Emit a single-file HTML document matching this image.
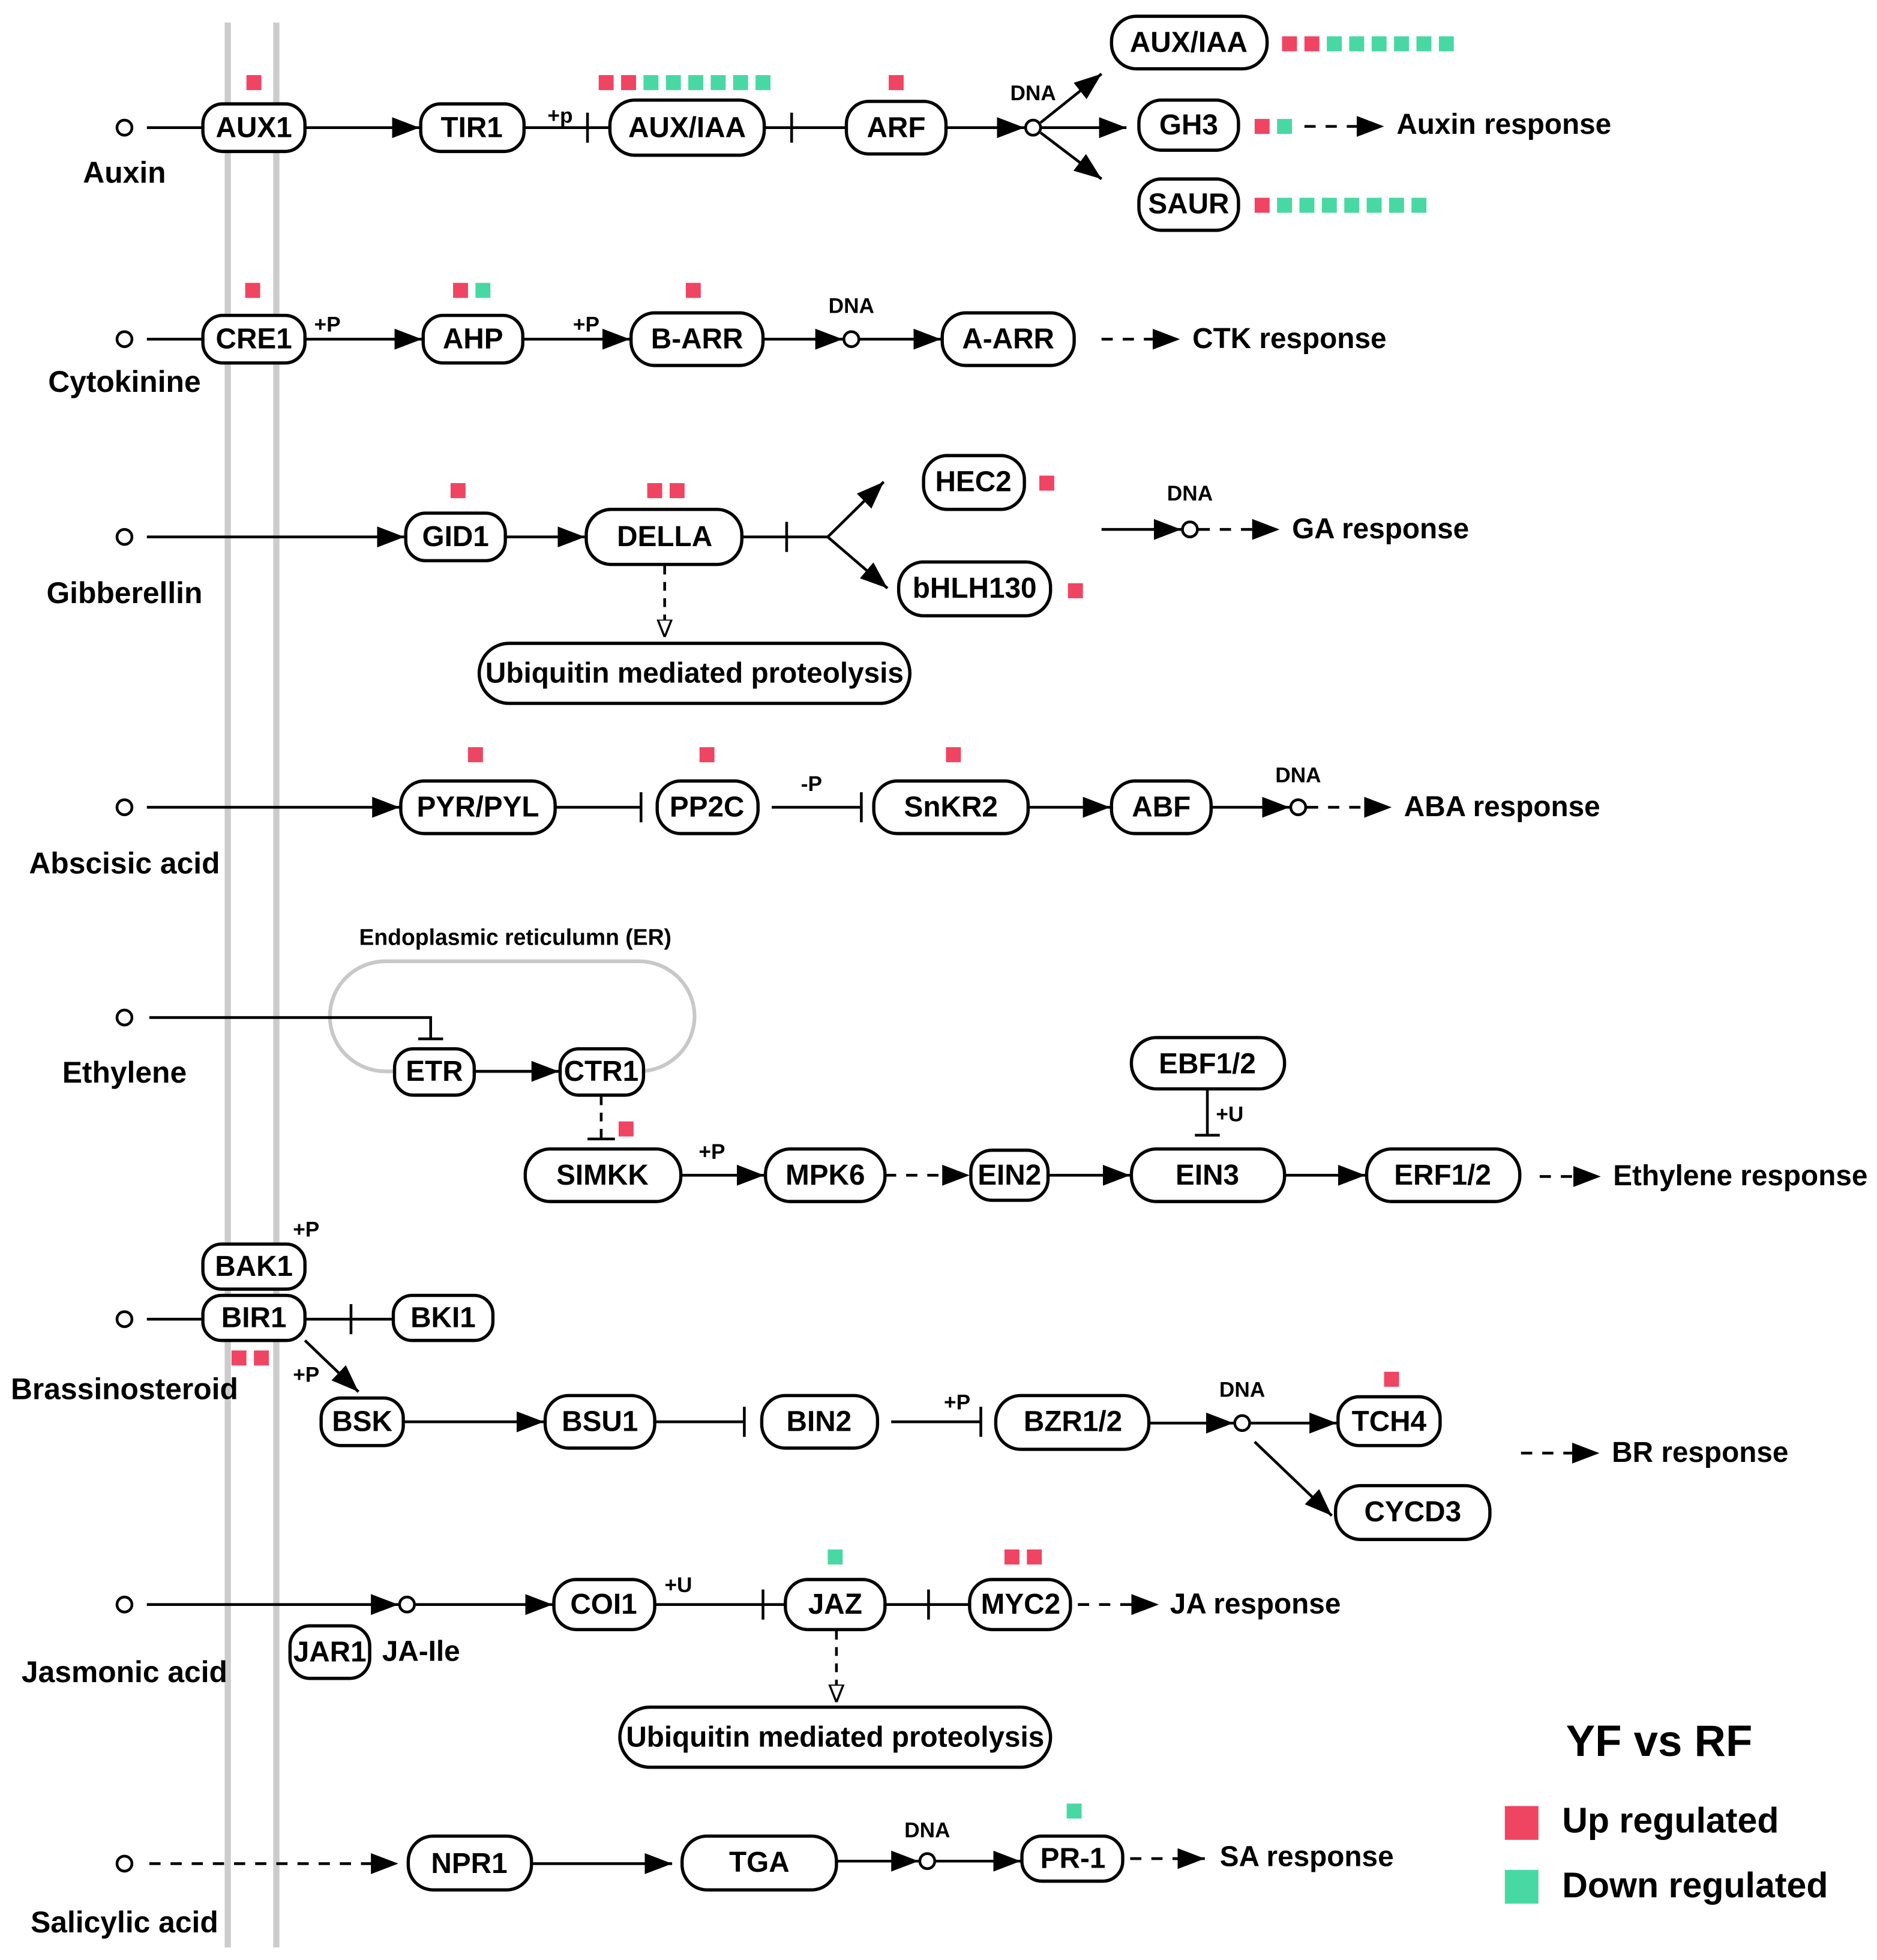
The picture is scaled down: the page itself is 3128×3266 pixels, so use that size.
<!DOCTYPE html>
<html><head><meta charset="utf-8"><style>
html,body{margin:0;padding:0;background:#fff}
svg{display:block}
text{font-family:"Liberation Sans",Arial,sans-serif;font-weight:bold;fill:#000}
.n{font-size:23px;text-anchor:middle;dominant-baseline:central}
.l{font-size:24px;text-anchor:middle}
.r{font-size:23px}
.s{font-size:17px;text-anchor:middle}
</style></head><body>
<svg width="3128" height="3266" viewBox="0 0 1508 1566" preserveAspectRatio="none" xmlns="http://www.w3.org/2000/svg">
<defs>
<marker id="A" viewBox="0 0 10 10" refX="10" refY="5" markerWidth="22" markerHeight="22" markerUnits="userSpaceOnUse" orient="auto"><path d="M0,1.2 L10,5 L0,8.8 z" fill="#000"/></marker>
<marker id="o" viewBox="0 0 10 10" refX="10" refY="5" markerWidth="14" markerHeight="14" markerUnits="userSpaceOnUse" orient="auto"><path d="M0,1 L10,5 L0,9 z" fill="#fff" stroke="#000" stroke-width="1.2"/></marker>
</defs>
<g stroke="#ccc" stroke-width="5"><line x1="183" y1="18" x2="183" y2="1556"/><line x1="222" y1="18" x2="222" y2="1556"/></g>
<rect x="265" y="768" width="293" height="88" rx="45" fill="none" stroke="#c8c8c8" stroke-width="3"/>

<g fill="none" stroke="#000" stroke-width="2.2">
<circle cx="100" cy="102" r="6"/><circle cx="830" cy="102" r="6"/>
<circle cx="100" cy="271" r="6"/><circle cx="684" cy="271" r="6"/>
<circle cx="100" cy="429" r="6"/><circle cx="956" cy="423" r="6"/>
<circle cx="100" cy="645" r="6"/><circle cx="1043" cy="645" r="6"/>
<circle cx="100" cy="813" r="6"/>
<circle cx="100" cy="1054" r="6"/><circle cx="998" cy="1137" r="6"/>
<circle cx="100" cy="1282" r="6"/><circle cx="327" cy="1282" r="6"/>
<circle cx="100" cy="1489" r="6"/><circle cx="745" cy="1487" r="6"/>
</g>

<g stroke="#000" stroke-width="2.2" fill="none">
<line x1="118" y1="102" x2="163" y2="102"/>
<line x1="245" y1="102" x2="337" y2="102" marker-end="url(#A)"/>
<line x1="421" y1="102" x2="490" y2="102"/><line x1="472" y1="90" x2="472" y2="114"/>
<line x1="614" y1="102" x2="680" y2="102"/><line x1="636" y1="90" x2="636" y2="114"/>
<line x1="760" y1="102" x2="823" y2="102" marker-end="url(#A)"/>
<line x1="836" y1="98" x2="885" y2="59" marker-end="url(#A)"/>
<line x1="836" y1="102" x2="905" y2="102" marker-end="url(#A)"/>
<line x1="836" y1="106" x2="885" y2="143" marker-end="url(#A)"/>
<line x1="1048" y1="101" x2="1112" y2="101" stroke-dasharray="9,8" marker-end="url(#A)"/>
<line x1="118" y1="271" x2="163" y2="271"/>
<line x1="245" y1="271" x2="339" y2="271" marker-end="url(#A)"/>
<line x1="420" y1="271" x2="506" y2="271" marker-end="url(#A)"/>
<line x1="613" y1="271" x2="677" y2="271" marker-end="url(#A)"/>
<line x1="690" y1="271" x2="756" y2="271" marker-end="url(#A)"/>
<line x1="885" y1="271" x2="948" y2="271" stroke-dasharray="9,8" marker-end="url(#A)"/>
<line x1="118" y1="429" x2="325" y2="429" marker-end="url(#A)"/>
<line x1="406" y1="429" x2="470" y2="429" marker-end="url(#A)"/>
<line x1="596" y1="429" x2="665" y2="429"/><line x1="632" y1="417" x2="632" y2="441"/>
<line x1="665" y1="429" x2="710" y2="385" marker-end="url(#A)"/>
<line x1="665" y1="429" x2="713" y2="470" marker-end="url(#A)"/>
<line x1="885" y1="423" x2="949" y2="423" marker-end="url(#A)"/>
<line x1="963" y1="423" x2="1028" y2="423" stroke-dasharray="9,8" marker-end="url(#A)"/>
<line x1="534" y1="452" x2="534" y2="509" stroke-dasharray="7,6" marker-end="url(#o)"/>
<line x1="118" y1="645" x2="321" y2="645" marker-end="url(#A)"/>
<line x1="446" y1="645" x2="515" y2="645"/><line x1="515" y1="633" x2="515" y2="657"/>
<line x1="620" y1="645" x2="692" y2="645"/><line x1="692" y1="633" x2="692" y2="657"/>
<line x1="826" y1="645" x2="892" y2="645" marker-end="url(#A)"/>
<line x1="973" y1="645" x2="1036" y2="645" marker-end="url(#A)"/>
<line x1="1050" y1="645" x2="1118" y2="645" stroke-dasharray="9,8" marker-end="url(#A)"/>
<polyline points="120,813 346,813 346,830"/><line x1="336" y1="830" x2="356" y2="830"/>
<line x1="381" y1="856" x2="449" y2="856" marker-end="url(#A)"/>
<line x1="483" y1="876" x2="483" y2="910" stroke-dasharray="7,6"/><line x1="472" y1="910" x2="494" y2="910"/>
<line x1="547" y1="939" x2="614" y2="939" marker-end="url(#A)"/>
<line x1="711" y1="939" x2="779" y2="939" stroke-dasharray="9,8" marker-end="url(#A)"/>
<line x1="842" y1="939" x2="908" y2="939" marker-end="url(#A)"/>
<line x1="970" y1="870" x2="970" y2="907"/><line x1="960" y1="907" x2="980" y2="907"/>
<line x1="1032" y1="939" x2="1097" y2="939" marker-end="url(#A)"/>
<line x1="1237" y1="940" x2="1286" y2="940" stroke-dasharray="9,8" marker-end="url(#A)"/>
<line x1="118" y1="1054" x2="163" y2="1054"/>
<line x1="245" y1="1054" x2="316" y2="1054"/><line x1="282" y1="1042" x2="282" y2="1066"/>
<line x1="245" y1="1071" x2="288" y2="1112" marker-end="url(#A)"/>
<line x1="324" y1="1136" x2="437" y2="1136" marker-end="url(#A)"/>
<line x1="526" y1="1136" x2="598" y2="1136"/><line x1="598" y1="1124" x2="598" y2="1148"/>
<line x1="716" y1="1136" x2="788" y2="1136"/><line x1="788" y1="1124" x2="788" y2="1148"/>
<line x1="923" y1="1137" x2="991" y2="1137" marker-end="url(#A)"/>
<line x1="1005" y1="1137" x2="1074" y2="1137" marker-end="url(#A)"/>
<line x1="1008" y1="1152" x2="1070" y2="1211" marker-end="url(#A)"/>
<line x1="1222" y1="1161" x2="1285" y2="1161" stroke-dasharray="9,8" marker-end="url(#A)"/>
<line x1="118" y1="1282" x2="320" y2="1282" marker-end="url(#A)"/>
<line x1="334" y1="1282" x2="444" y2="1282" marker-end="url(#A)"/>
<line x1="526" y1="1282" x2="631" y2="1282"/><line x1="613" y1="1270" x2="613" y2="1294"/>
<line x1="711" y1="1282" x2="779" y2="1282"/><line x1="746" y1="1270" x2="746" y2="1294"/>
<line x1="866" y1="1282" x2="931" y2="1282" stroke-dasharray="9,8" marker-end="url(#A)"/>
<line x1="672" y1="1303" x2="672" y2="1360" stroke-dasharray="7,6" marker-end="url(#o)"/>
<line x1="120" y1="1489" x2="320" y2="1489" stroke-dasharray="9,8" marker-end="url(#A)"/>
<line x1="427" y1="1489" x2="540" y2="1489" marker-end="url(#A)"/>
<line x1="672" y1="1487" x2="738" y2="1487" marker-end="url(#A)"/>
<line x1="752" y1="1487" x2="820" y2="1487" marker-end="url(#A)"/>
<line x1="908" y1="1485" x2="968" y2="1485" stroke-dasharray="9,8" marker-end="url(#A)"/>
</g>

<g fill="#fff" stroke="#000" stroke-width="2.6">
<rect x="163" y="83" width="82" height="38" rx="16"/>
<rect x="338" y="83" width="83" height="38" rx="16"/>
<rect x="490" y="80" width="124" height="44" rx="20"/>
<rect x="680" y="81" width="80" height="42" rx="18"/>
<rect x="893" y="13" width="125" height="42" rx="20"/>
<rect x="915" y="80" width="80" height="40" rx="18"/>
<rect x="915" y="143" width="80" height="41" rx="18"/>
<rect x="163" y="252" width="82" height="38" rx="16"/>
<rect x="340" y="252" width="80" height="38" rx="16"/>
<rect x="507" y="250" width="106" height="42" rx="19"/>
<rect x="757" y="250" width="106" height="42" rx="19"/>
<rect x="326" y="410" width="80" height="38" rx="16"/>
<rect x="471" y="407" width="125" height="44" rx="20"/>
<rect x="742" y="364" width="81" height="43" rx="19"/>
<rect x="722" y="449" width="122" height="43" rx="20"/>
<rect x="385" y="514" width="346" height="48" rx="24"/>
<rect x="322" y="624" width="124" height="42" rx="19"/>
<rect x="528" y="624" width="81" height="42" rx="19"/>
<rect x="702" y="624" width="124" height="42" rx="19"/>
<rect x="893" y="624" width="80" height="42" rx="19"/>
<rect x="317" y="838" width="64" height="37" rx="15"/>
<rect x="450" y="838" width="67" height="37" rx="15"/>
<rect x="422" y="918" width="125" height="42" rx="20"/>
<rect x="615" y="918" width="96" height="42" rx="20"/>
<rect x="780" y="919" width="62" height="40" rx="17"/>
<rect x="909" y="918" width="123" height="42" rx="20"/>
<rect x="909" y="829" width="123" height="41" rx="20"/>
<rect x="1098" y="918" width="123" height="42" rx="20"/>
<rect x="163" y="994" width="82" height="36" rx="15"/>
<rect x="163" y="1035" width="82" height="36" rx="15"/>
<rect x="316" y="1035" width="80" height="36" rx="15"/>
<rect x="258" y="1117" width="66" height="38" rx="16"/>
<rect x="438" y="1115" width="88" height="42" rx="19"/>
<rect x="612" y="1115" width="93" height="42" rx="19"/>
<rect x="800" y="1115" width="123" height="43" rx="20"/>
<rect x="1075" y="1116" width="82" height="39" rx="17"/>
<rect x="1073" y="1187" width="124" height="43" rx="20"/>
<rect x="445" y="1262" width="81" height="40" rx="18"/>
<rect x="631" y="1262" width="80" height="40" rx="18"/>
<rect x="779" y="1262" width="81" height="40" rx="18"/>
<rect x="233" y="1299" width="64" height="42" rx="16"/>
<rect x="498" y="1364" width="346" height="48" rx="24"/>
<rect x="328" y="1467" width="99" height="43" rx="20"/>
<rect x="548" y="1467" width="124" height="43" rx="20"/>
<rect x="821" y="1467" width="81" height="36" rx="16"/>
</g>

<g>
<text class="n" x="204" y="102">AUX1</text>
<text class="n" x="379" y="102">TIR1</text>
<text class="n" x="552" y="102">AUX/IAA</text>
<text class="n" x="720" y="102">ARF</text>
<text class="n" x="955" y="34">AUX/IAA</text>
<text class="n" x="955" y="100">GH3</text>
<text class="n" x="955" y="163">SAUR</text>
<text class="n" x="204" y="271">CRE1</text>
<text class="n" x="380" y="271">AHP</text>
<text class="n" x="560" y="271">B-ARR</text>
<text class="n" x="810" y="271">A-ARR</text>
<text class="n" x="366" y="429">GID1</text>
<text class="n" x="534" y="429">DELLA</text>
<text class="n" x="782" y="385">HEC2</text>
<text class="n" x="783" y="470">bHLH130</text>
<text class="n" x="558" y="538">Ubiquitin mediated proteolysis</text>
<text class="n" x="384" y="645">PYR/PYL</text>
<text class="n" x="568" y="645">PP2C</text>
<text class="n" x="764" y="645">SnKR2</text>
<text class="n" x="933" y="645">ABF</text>
<text class="n" x="349" y="856">ETR</text>
<text class="n" x="483" y="856">CTR1</text>
<text class="n" x="484" y="939">SIMKK</text>
<text class="n" x="663" y="939">MPK6</text>
<text class="n" x="811" y="939">EIN2</text>
<text class="n" x="970" y="939">EIN3</text>
<text class="n" x="970" y="850">EBF1/2</text>
<text class="n" x="1159" y="939">ERF1/2</text>
<text class="n" x="204" y="1012">BAK1</text>
<text class="n" x="204" y="1053">BIR1</text>
<text class="n" x="356" y="1053">BKI1</text>
<text class="n" x="291" y="1136">BSK</text>
<text class="n" x="482" y="1136">BSU1</text>
<text class="n" x="658" y="1136">BIN2</text>
<text class="n" x="862" y="1136">BZR1/2</text>
<text class="n" x="1116" y="1136">TCH4</text>
<text class="n" x="1135" y="1208">CYCD3</text>
<text class="n" x="485" y="1282">COI1</text>
<text class="n" x="671" y="1282">JAZ</text>
<text class="n" x="820" y="1282">MYC2</text>
<text class="n" x="265" y="1320">JAR1</text>
<text class="n" x="671" y="1388">Ubiquitin mediated proteolysis</text>
<text class="n" x="377" y="1489">NPR1</text>
<text class="n" x="610" y="1488">TGA</text>
<text class="n" x="862" y="1485">PR-1</text>

<text class="l" x="100" y="146">Auxin</text>
<text class="l" x="100" y="313">Cytokinine</text>
<text class="l" x="100" y="482">Gibberellin</text>
<text class="l" x="100" y="698">Abscisic acid</text>
<text class="l" x="100" y="865">Ethylene</text>
<text class="l" x="100" y="1118">Brassinosteroid</text>
<text class="l" x="100" y="1344">Jasmonic acid</text>
<text class="l" x="100" y="1544">Salicylic acid</text>

<text class="r" x="1122" y="107">Auxin response</text>
<text class="r" x="958" y="278">CTK response</text>
<text class="r" x="1038" y="430">GA response</text>
<text class="r" x="1128" y="652">ABA response</text>
<text class="r" x="1296" y="947">Ethylene response</text>
<text class="r" x="1295" y="1168">BR response</text>
<text class="r" x="940" y="1289">JA response</text>
<text class="r" x="980" y="1491">SA response</text>
<text class="r" x="307" y="1327">JA-Ile</text>

<text class="s" x="830" y="80">DNA</text>
<text class="s" x="684" y="250">DNA</text>
<text class="s" x="956" y="400">DNA</text>
<text class="s" x="1043" y="625">DNA</text>
<text class="s" x="998" y="1116">DNA</text>
<text class="s" x="745" y="1468">DNA</text>
<text class="s" x="450" y="98">+p</text>
<text class="s" x="263" y="265">+P</text>
<text class="s" x="471" y="265">+P</text>
<text class="s" x="652" y="632">-P</text>
<text class="s" x="572" y="926">+P</text>
<text class="s" x="988" y="896">+U</text>
<text class="s" x="246" y="988">+P</text>
<text class="s" x="246" y="1104">+P</text>
<text class="s" x="769" y="1126">+P</text>
<text class="s" x="545" y="1272">+U</text>
<text x="414" y="755" style="font-size:18px;text-anchor:middle">Endoplasmic reticulumn (ER)</text>

<text x="1333" y="1403" style="font-size:35px;text-anchor:middle">YF vs RF</text>
<text x="1255" y="1464" style="font-size:28.5px">Up regulated</text>
<text x="1255" y="1516" style="font-size:28.5px">Down regulated</text>
</g>

<g fill="#F04463">
<rect x="198" y="60" width="12" height="12"/>
<rect x="481" y="60" width="12" height="12"/><rect x="499" y="60" width="12" height="12"/>
<rect x="714" y="60" width="12" height="12"/>
<rect x="1030" y="29" width="12" height="12"/><rect x="1048" y="29" width="12" height="12"/>
<rect x="1008" y="95" width="12" height="12"/>
<rect x="1008" y="158" width="12" height="12"/>
<rect x="197" y="226" width="12" height="12"/>
<rect x="364" y="226" width="12" height="12"/>
<rect x="551" y="226" width="12" height="12"/>
<rect x="362" y="386" width="12" height="12"/>
<rect x="520" y="386" width="12" height="12"/><rect x="538" y="386" width="12" height="12"/>
<rect x="835" y="380" width="12" height="12"/>
<rect x="858" y="466" width="12" height="12"/>
<rect x="376" y="597" width="12" height="12"/>
<rect x="562" y="597" width="12" height="12"/>
<rect x="760" y="597" width="12" height="12"/>
<rect x="497" y="896" width="12" height="12"/>
<rect x="186" y="1079" width="12" height="12"/><rect x="204" y="1079" width="12" height="12"/>
<rect x="1112" y="1096" width="12" height="12"/>
<rect x="807" y="1238" width="12" height="12"/><rect x="825" y="1238" width="12" height="12"/>
<rect x="1209" y="1443" width="27" height="27"/>
</g>
<g fill="#48D8A4">
<rect x="517" y="60" width="12" height="12"/><rect x="535" y="60" width="12" height="12"/><rect x="553" y="60" width="12" height="12"/><rect x="571" y="60" width="12" height="12"/><rect x="589" y="60" width="12" height="12"/><rect x="607" y="60" width="12" height="12"/>
<rect x="1066" y="29" width="12" height="12"/><rect x="1084" y="29" width="12" height="12"/><rect x="1102" y="29" width="12" height="12"/><rect x="1120" y="29" width="12" height="12"/><rect x="1138" y="29" width="12" height="12"/><rect x="1156" y="29" width="12" height="12"/>
<rect x="1026" y="95" width="12" height="12"/>
<rect x="1026" y="158" width="12" height="12"/><rect x="1044" y="158" width="12" height="12"/><rect x="1062" y="158" width="12" height="12"/><rect x="1080" y="158" width="12" height="12"/><rect x="1098" y="158" width="12" height="12"/><rect x="1116" y="158" width="12" height="12"/><rect x="1134" y="158" width="12" height="12"/>
<rect x="382" y="226" width="12" height="12"/>
<rect x="665" y="1238" width="12" height="12"/>
<rect x="857" y="1441" width="12" height="12"/>
<rect x="1209" y="1494" width="27" height="27"/>
</g>
</svg>
</body></html>
